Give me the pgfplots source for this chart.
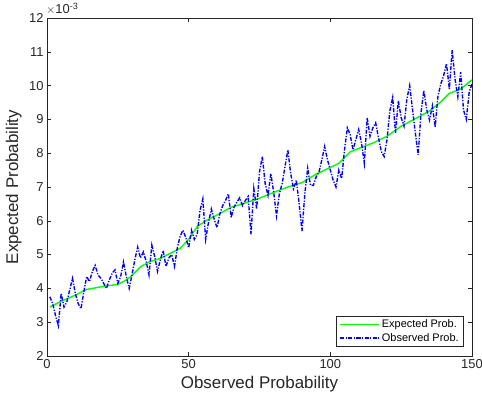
\documentclass[border=0pt]{standalone}
\usepackage{pgfplots}
\pgfplotsset{compat=1.18}
\usepackage{fontspec}
\setmainfont{Liberation Sans}
\definecolor{axgray}{rgb}{0.15,0.15,0.15}
\definecolor{mgreen}{rgb}{0,1,0}
\definecolor{mblue}{rgb}{0,0,1}
\pgfplotstableread{
x y
1 3.75
2 3.55
3 3.20
4 2.90
5 3.85
6 3.45
7 3.60
8 3.95
9 4.30
10 3.85
11 3.55
12 3.40
13 3.90
14 4.35
15 4.20
16 4.50
17 4.68
18 4.40
19 4.30
20 4.15
21 4.00
22 4.25
23 4.45
24 4.55
25 4.15
26 4.35
27 4.78
28 4.35
29 4.00
30 4.40
31 4.85
32 5.22
33 4.90
34 5.08
35 4.80
36 4.40
37 5.28
38 4.95
39 4.50
40 4.85
41 5.12
42 4.65
43 4.90
44 5.00
45 4.65
46 5.20
47 5.55
48 5.72
49 5.50
50 5.20
51 5.72
52 5.45
53 5.60
54 6.30
55 6.65
56 5.45
57 5.95
58 6.35
59 6.05
60 5.80
61 6.20
62 6.45
63 6.60
64 6.80
65 6.10
66 6.40
67 6.55
68 6.68
69 6.45
70 6.60
71 6.72
72 5.60
73 6.95
74 6.35
75 7.45
76 7.90
77 7.10
78 6.75
79 7.40
80 6.85
81 6.15
82 6.80
83 7.10
84 7.60
85 8.10
86 7.40
87 6.95
88 7.20
89 6.50
90 5.70
91 6.80
92 7.55
93 7.05
94 7.05
95 7.30
96 7.45
97 7.80
98 8.20
99 7.80
100 7.50
101 7.20
102 7.00
103 7.50
104 7.25
105 8.10
106 8.75
107 8.55
108 8.10
109 8.40
110 8.70
111 8.30
112 7.70
113 9.05
114 8.50
115 8.75
116 8.90
117 8.45
118 8.05
119 7.90
120 8.40
121 9.25
122 9.65
123 8.60
124 9.55
125 9.05
126 8.80
127 9.60
128 10.00
129 9.30
130 8.60
131 7.95
132 9.20
133 9.85
134 9.30
135 8.98
136 9.40
137 8.78
138 9.70
139 10.05
140 10.30
141 10.65
142 9.90
143 11.05
144 10.20
145 9.67
146 10.40
147 9.28
148 9.00
149 9.80
150 10.05
}\observed
\pgfplotstableread{
x y
1 3.45
5 3.62
10 3.80
14 3.97
20 4.06
25 4.12
28 4.25
30 4.38
33 4.64
36 4.78
40 4.89
45 5.10
47 5.19
50 5.45
53 5.83
56 6.00
60 6.17
65 6.40
70 6.53
75 6.67
80 6.84
85 7.00
90 7.13
95 7.38
100 7.58
103 7.70
107 8.04
110 8.14
115 8.30
120 8.50
125 8.80
130 9.02
135 9.25
139 9.52
142 9.77
146 9.90
150 10.17
}\expected
\begin{document}
\begin{tikzpicture}
\useasboundingbox (-47bp,-48bp) rectangle (435bp,356bp);
\begin{axis}[
  scale only axis,
  width=425bp, height=338bp,
  at={(0,0)}, anchor=south west,
  xmin=0, xmax=150, ymin=2, ymax=12,
  xtick={0,50,100,150},
  ytick={2,3,4,5,6,7,8,9,10,11,12},
  tick align=inside,
  major tick length=4bp,
  axis line style={draw=axgray, line width=0.5pt},
  every tick/.style={draw=axgray, line width=0.5pt},
  tick label style={font=\fontsize{13}{15}\selectfont, text=axgray},
  /pgf/number format/assume math mode=true,
  xlabel={Observed Probability},
  ylabel={Expected Probability},
  label style={font=\fontsize{17}{20}\selectfont, text=axgray},
  xlabel style={at={(axis description cs:0.5,-0.083)}, anchor=center},
  ylabel style={at={(axis description cs:-0.078,0.5)}, anchor=center},
  legend style={at={(0.981,0.027)}, anchor=south east,
    font=\fontsize{11}{13}\selectfont, draw=axgray, line width=0.5pt,
    row sep=0pt, inner xsep=3bp, inner ysep=2bp},
  legend cell align=left,
  legend image post style={xscale=2.3},
]
\addplot[draw=mgreen, line width=1.4pt] table[x=x,y=y] {\expected};
\addplot[draw=mblue, line width=1.4pt, dash pattern=on 4pt off 1.5pt on 1.2pt off 1.5pt] table[x=x,y=y] {\observed};
\legend{Expected Prob., Observed Prob.}
\end{axis}
\node[anchor=south west, font=\fontsize{13}{15}\selectfont, text=axgray, inner sep=0pt] at (-1bp,341bp) {$\times$10\textsuperscript{-3}};
\end{tikzpicture}
\end{document}
